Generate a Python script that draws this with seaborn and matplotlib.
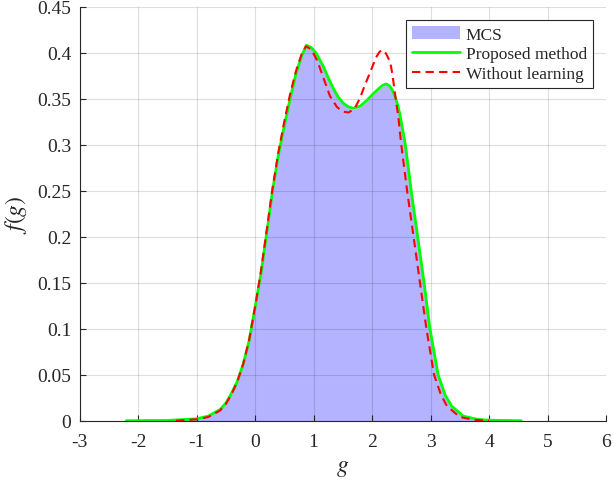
import numpy as np
import pandas as pd
import matplotlib
matplotlib.use("Agg")
import matplotlib.pyplot as plt
import seaborn as sns

# ---- data ----
g_prop = [-2.2, -1.5, -1.0, -0.8, -0.6, -0.5, -0.4, -0.3, -0.2, -0.1, 0.0, 0.1, 0.2, 0.3, 0.4,
          0.5, 0.6, 0.7, 0.8, 0.88, 0.95, 1.0, 1.05, 1.1, 1.17, 1.25, 1.34, 1.42, 1.51, 1.6,
          1.68, 1.8, 1.91, 2.0, 2.1, 2.17, 2.24, 2.3, 2.35, 2.39, 2.44, 2.48, 2.57, 2.67,
          2.78, 2.89, 2.99, 3.13, 3.25, 3.36, 3.56, 3.8, 4.0, 4.55]
f_prop = [0.0, 0.0003, 0.002, 0.005, 0.012, 0.019, 0.030, 0.043, 0.062, 0.087, 0.123, 0.159,
          0.204, 0.250, 0.289, 0.320, 0.350, 0.377, 0.397, 0.408, 0.406, 0.403, 0.399,
          0.393, 0.385, 0.373, 0.361, 0.352, 0.345, 0.341, 0.3395, 0.342, 0.348, 0.354,
          0.360, 0.364, 0.366, 0.364, 0.359, 0.353, 0.343, 0.332, 0.300, 0.250, 0.200,
          0.150, 0.100, 0.050, 0.028, 0.016, 0.005, 0.0015, 0.0005, 0.0]

g_nolearn = [-1.35, -1.0, -0.8, -0.6, -0.5, -0.4, -0.3, -0.2, -0.1, 0.0, 0.1, 0.2, 0.3, 0.4,
             0.5, 0.6, 0.7, 0.8, 0.87, 0.95, 1.0, 1.05, 1.1, 1.15, 1.28, 1.4, 1.5, 1.6, 1.7,
             1.79, 1.88, 1.97, 2.07, 2.13, 2.18, 2.24, 2.31, 2.35, 2.39, 2.45, 2.5, 2.6,
             2.71, 2.82, 2.93, 3.06, 3.18, 3.28, 3.5, 3.75, 4.0]
f_nolearn = [0.0, 0.0015, 0.004, 0.011, 0.018, 0.029, 0.043, 0.062, 0.088, 0.123, 0.162,
             0.207, 0.253, 0.292, 0.325, 0.355, 0.380, 0.399, 0.407, 0.404, 0.399, 0.393,
             0.385, 0.376, 0.353, 0.341, 0.336, 0.335, 0.339, 0.350, 0.365, 0.379, 0.395,
             0.401, 0.403, 0.399, 0.390, 0.376, 0.357, 0.330, 0.300, 0.250, 0.200, 0.150,
             0.100, 0.050, 0.028, 0.016, 0.004, 0.001, 0.0]

g_mcs = [-1.5, -1.0, -0.8, -0.6, -0.5, -0.4, -0.3, -0.2, -0.1, 0.0, 0.1, 0.2, 0.3, 0.4,
         0.5, 0.6, 0.7, 0.8, 0.88, 0.95, 1.0, 1.05, 1.1, 1.17, 1.25, 1.34, 1.42, 1.51, 1.6,
         1.68, 1.8, 1.91, 2.0, 2.1, 2.17, 2.24, 2.3, 2.35, 2.39, 2.44, 2.48, 2.57, 2.67,
         2.78, 2.89, 2.99, 3.13, 3.25, 3.36, 3.56, 3.8, 4.2]
f_mcs = [0.0, 0.002, 0.005, 0.012, 0.019, 0.030, 0.043, 0.062, 0.087, 0.122, 0.158,
         0.203, 0.249, 0.288, 0.320, 0.350, 0.377, 0.397, 0.407, 0.405, 0.402, 0.398,
         0.392, 0.384, 0.372, 0.360, 0.351, 0.344, 0.340, 0.338, 0.341, 0.347, 0.353,
         0.359, 0.363, 0.365, 0.363, 0.358, 0.352, 0.342, 0.331, 0.299, 0.249, 0.199,
         0.149, 0.099, 0.049, 0.027, 0.015, 0.004, 0.001, 0.0]

xticks = [-3, -2, -1, 0, 1, 2, 3, 4, 5, 6]
yticks = [0, 0.05, 0.1, 0.15, 0.2, 0.25, 0.3, 0.35, 0.4, 0.45]
ytick_labels = ["0", "0.05", "0.1", "0.15", "0.2", "0.25", "0.3", "0.35", "0.4", "0.45"]

# ---- style ----
sns.set_theme(style="white")
plt.rcParams["font.family"] = ["Liberation Serif", "DejaVu Serif"]
plt.rcParams["mathtext.fontset"] = "stix"
plt.rcParams["axes.unicode_minus"] = False

fig = plt.figure(figsize=(6.13, 4.89), dpi=100)
ax = fig.add_axes([0.1297, 0.1376, 0.8589, 0.8467])

ax.fill_between(g_mcs, f_mcs, 0, color=(0.7, 0.7, 1.0), linewidth=0,
                zorder=1, label="MCS")

df_prop = pd.DataFrame({"g": g_prop, "f": f_prop})
df_nl = pd.DataFrame({"g": g_nolearn, "f": f_nolearn})
sns.lineplot(data=df_prop, x="g", y="f", ax=ax, color=(0, 1, 0), linewidth=2.0,
             sort=False, label="Proposed method", zorder=4)
sns.lineplot(data=df_nl, x="g", y="f", ax=ax, color=(1, 0, 0), linewidth=1.5,
             sort=False, label="Without learning", zorder=5, dashes=False)
ax.lines[-1].set_dashes((4, 2.5))

ax.set_xlim(-3, 6)
ax.set_ylim(0, 0.45)
ax.set_xticks(xticks)
ax.set_xticklabels([str(t) for t in xticks])
ax.set_yticks(yticks)
ax.set_yticklabels(ytick_labels)

ax.grid(True, color="black", alpha=0.13, linewidth=0.8, zorder=2)
ax.set_axisbelow(False)
for ln in ax.get_xgridlines() + ax.get_ygridlines():
    ln.set_zorder(2)

for s in ["top", "right"]:
    ax.spines[s].set_visible(False)
for s in ["left", "bottom"]:
    ax.spines[s].set_color((0.15, 0.15, 0.15))
    ax.spines[s].set_linewidth(0.8)
    ax.spines[s].set_zorder(6)

ax.tick_params(axis="both", direction="in", length=4, width=0.8,
               color=(0.15, 0.15, 0.15), labelsize=14, labelcolor=(0.15, 0.15, 0.15),
               left=True, bottom=True, pad=6)
ax.tick_params(axis="x", pad=9)

ax.set_xlabel("$g$", fontsize=17, color=(0.15, 0.15, 0.15), labelpad=5)
ax.set_ylabel("$f(g)$", fontsize=17, color=(0.15, 0.15, 0.15), labelpad=6)

handles, labels = ax.get_legend_handles_labels()
order = [labels.index("MCS"), labels.index("Proposed method"), labels.index("Without learning")]
leg = ax.legend([handles[i] for i in order], [labels[i] for i in order],
                loc="upper right", bbox_to_anchor=(0.975, 0.967), fontsize=12.5,
                frameon=True, fancybox=False, edgecolor=(0.15, 0.15, 0.15),
                framealpha=1, handlelength=2.8, handletextpad=0.3, borderpad=0.35,
                labelspacing=0.2, borderaxespad=0)
leg.get_frame().set_linewidth(0.8)
leg.set_zorder(10)

fig.savefig("out.png", dpi=100)
